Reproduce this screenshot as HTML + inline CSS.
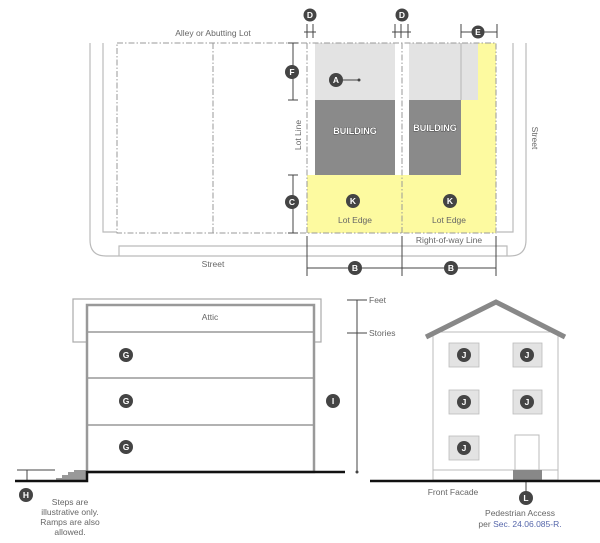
<!DOCTYPE html>
<html><head><meta charset="utf-8"><style>
html,body{margin:0;padding:0;background:#fff;}
svg{display:block;font-family:"Liberation Sans",sans-serif;}
</style></head><body>
<svg width="600" height="543" viewBox="0 0 600 543" xmlns="http://www.w3.org/2000/svg">
<g fill="none" stroke="#bbb" stroke-width="1.2">
<path d="M90 43 V240 Q90 256 106 256 H510 Q526 256 526 240 V43"/>
<path d="M103 43 V232 H117"/>
<path d="M513 43 V232 H497"/>
<path d="M119 256 V246 H507 V256"/>
</g>
<rect x="315" y="43" width="80" height="57" fill="#e3e3e3"/>
<rect x="409" y="43" width="69" height="57" fill="#e3e3e3"/>
<rect x="307" y="175" width="189" height="58" fill="#fdfaa0"/>
<path d="M478 43 H496 V175 H461 V100 H478 Z" fill="#fdfaa0"/>
<rect x="315" y="100" width="80" height="75" fill="#8a8a8a"/>
<rect x="409" y="100" width="52" height="75" fill="#8a8a8a"/>
<line x1="461" y1="43" x2="461" y2="100" stroke="#aaa" stroke-width="0.8"/>
<g fill="none" stroke="#999" stroke-width="1" stroke-dasharray="6,2,1.5,2">
<rect x="117" y="43" width="379" height="190"/>
<line x1="213" y1="43" x2="213" y2="233"/>
<line x1="307" y1="43" x2="307" y2="233"/>
<line x1="402" y1="43" x2="402" y2="233"/>
</g>
<g stroke="#444" stroke-width="1" fill="none">
<path d="M293 43 V100 M288 43 H298 M288 100 H298"/>
<path d="M293 175 V233 M288 175 H298 M288 233 H298"/>
<path d="M307 236 V276 M402 236 V276 M496 236 V276 M307 268 H496"/>
<path d="M307 24 V38 M313 24 V38 M304 32 H316"/>
<path d="M395 24 V38 M401 24 V38 M408 24 V38 M392 32 H411"/>
<path d="M461 24 V38 M497 24 V38 M461 32 H497"/>
<path d="M336 80 H359"/>
<path d="M357 300 V472 M347 300 H367 M347 333 H367"/>
<path d="M17 470 H55 M27 470 V481"/>
<path d="M526 476 V498"/>
</g>
<circle cx="359" cy="80" r="1.5" fill="#444"/>
<circle cx="357" cy="472" r="1.5" fill="#444"/>
<rect x="73" y="299" width="248" height="43" fill="none" stroke="#aaa" stroke-width="1.2"/>
<rect x="87" y="305" width="227" height="167" fill="#fff" stroke="#999" stroke-width="2.5"/>
<g stroke="#999" stroke-width="1.5">
<line x1="87" y1="332" x2="314" y2="332"/>
<line x1="87" y1="378" x2="314" y2="378"/>
<line x1="87" y1="425" x2="314" y2="425"/>
</g>
<path d="M56 481 V478 H62 V475 H68 V472 H74 V470 H87 V481 Z" fill="#999"/>
<path d="M15 481 H87 V472 H345" fill="none" stroke="#111" stroke-width="2.5"/>
<rect x="433" y="332" width="125" height="148" fill="#fff" stroke="#bbb" stroke-width="1"/>
<line x1="433" y1="470" x2="558" y2="470" stroke="#bbb"/>
<path d="M426 337 L496 302 L565 337" fill="none" stroke="#888" stroke-width="5"/>
<g fill="#e3e3e3" stroke="#bbb" stroke-width="0.8">
<rect x="449" y="343" width="30" height="24"/><rect x="513" y="343" width="29" height="24"/>
<rect x="449" y="390" width="30" height="24"/><rect x="513" y="390" width="29" height="24"/>
<rect x="449" y="436" width="30" height="24"/>
</g>
<rect x="515" y="435" width="24" height="35" fill="#fff" stroke="#bbb"/>
<rect x="513" y="470" width="29" height="10" fill="#888"/>
<line x1="370" y1="481" x2="600" y2="481" stroke="#111" stroke-width="2.5"/>
<g font-size="8.5" fill="#666" text-anchor="middle">
<text x="213" y="36">Alley or Abutting Lot</text>
<text x="213" y="267">Street</text>
<text x="449" y="243">Right-of-way Line</text>
<text x="355" y="223">Lot Edge</text>
<text x="449" y="223">Lot Edge</text>
<text transform="translate(301,135) rotate(-90)">Lot Line</text>
<text transform="translate(532,138) rotate(90)">Street</text>
<text x="210" y="320">Attic</text>
<text x="453" y="495">Front Facade</text>
<text x="520" y="516">Pedestrian Access</text>
<text x="520" y="527">per <tspan fill="#5566aa">Sec. 24.06.085-R.</tspan></text>
<text x="70" y="505">Steps are</text>
<text x="70" y="515">illustrative only.</text>
<text x="70" y="525">Ramps are also</text>
<text x="70" y="535">allowed.</text>
</g>
<g font-size="8.5" fill="#666">
<text x="369" y="303">Feet</text>
<text x="369" y="336">Stories</text>
</g>
<g font-size="9" font-weight="bold" fill="#fff" stroke="#333" stroke-width="0.7" text-anchor="middle" paint-order="stroke">
<text x="355" y="134">BUILDING</text>
<text x="435" y="131">BUILDING</text>
</g>
<g fill="#444">
<circle cx="310" cy="15" r="6.5"/><circle cx="402" cy="15" r="6.5"/>
<circle cx="478" cy="32" r="6.5"/>
<circle cx="292" cy="72" r="7"/><circle cx="292" cy="202" r="7"/>
<circle cx="336" cy="80" r="7"/>
<circle cx="353" cy="201" r="7"/><circle cx="450" cy="201" r="7"/>
<circle cx="355" cy="268" r="7"/><circle cx="451" cy="268" r="7"/>
<circle cx="126" cy="355" r="7"/><circle cx="126" cy="401" r="7"/><circle cx="126" cy="447" r="7"/>
<circle cx="333" cy="401" r="7"/>
<circle cx="26" cy="495" r="7"/>
<circle cx="464" cy="355" r="7"/><circle cx="527" cy="355" r="7"/>
<circle cx="464" cy="402" r="7"/><circle cx="527" cy="402" r="7"/>
<circle cx="464" cy="448" r="7"/>
<circle cx="526" cy="498" r="7"/>
</g>
<g font-size="8.5" font-weight="bold" fill="#fff" text-anchor="middle">
<text x="310" y="18">D</text><text x="402" y="18">D</text>
<text x="478" y="35">E</text>
<text x="292" y="75">F</text><text x="292" y="205">C</text>
<text x="336" y="83">A</text>
<text x="353" y="204">K</text><text x="450" y="204">K</text>
<text x="355" y="271">B</text><text x="451" y="271">B</text>
<text x="126" y="358">G</text><text x="126" y="404">G</text><text x="126" y="450">G</text>
<text x="333" y="404">I</text>
<text x="26" y="498">H</text>
<text x="464" y="358">J</text><text x="527" y="358">J</text>
<text x="464" y="405">J</text><text x="527" y="405">J</text>
<text x="464" y="451">J</text>
<text x="526" y="501">L</text>
</g>
</svg>
</body></html>
